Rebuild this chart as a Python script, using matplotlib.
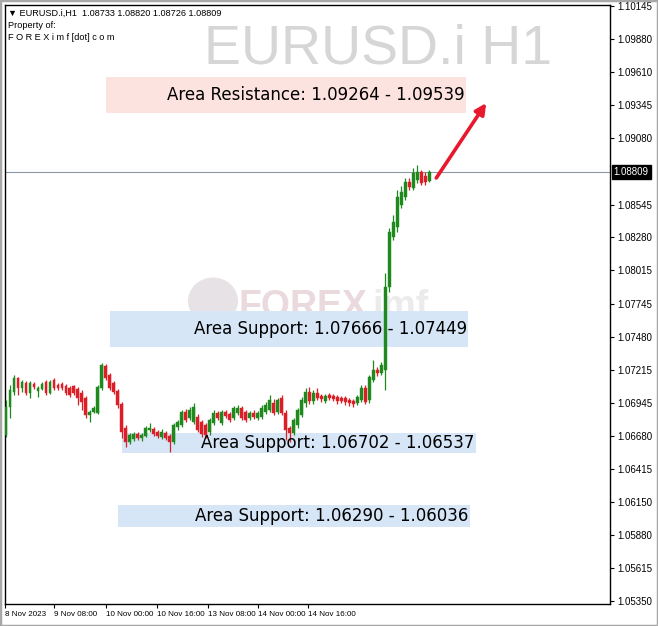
import matplotlib
matplotlib.use("Agg")
import matplotlib.pyplot as plt
from matplotlib.patches import Rectangle, Ellipse
from matplotlib.transforms import blended_transform_factory
import numpy as np

# ---- chart data (EURUSD.i H1) ----
opens = [
    1.06687, 1.06913, 1.07034, 1.07146, 1.07066, 1.07106, 1.07025, 1.07098, 1.07042, 1.07058,
    1.07114, 1.07025, 1.07130, 1.07090, 1.07098, 1.07082, 1.07066, 1.07082, 1.07058, 1.07025,
    1.06985, 1.06848, 1.06872, 1.06864, 1.07066, 1.07243, 1.07171, 1.07106, 1.07042, 1.06937,
    1.06743, 1.06630, 1.06655, 1.06695, 1.06663, 1.06679, 1.06727, 1.06735, 1.06711, 1.06671,
    1.06703, 1.06679, 1.06630, 1.06751, 1.06767, 1.06872, 1.06824, 1.06792, 1.06832, 1.06792,
    1.06767, 1.06711, 1.06784, 1.06864, 1.06784, 1.06872, 1.06856, 1.06824, 1.06864, 1.06905,
    1.06872, 1.06824, 1.06864, 1.06824, 1.06832, 1.06872, 1.06888, 1.06945, 1.06872, 1.06985,
    1.06864, 1.06743, 1.06703, 1.06767, 1.06848, 1.06945, 1.07034, 1.06961, 1.07025, 1.07001,
    1.06961, 1.07009, 1.07001, 1.06993, 1.06985, 1.06985, 1.06969, 1.06961, 1.06945, 1.06969,
    1.07066, 1.06969, 1.07130, 1.07211, 1.07187, 1.07211, 1.07880, 1.08283, 1.08363, 1.08541,
    1.08605, 1.08726, 1.08678, 1.08742, 1.08807, 1.08774, 1.08733,
]
highs = [
    1.06969, 1.07090, 1.07171, 1.07154, 1.07130, 1.07122, 1.07122, 1.07114, 1.07082, 1.07114,
    1.07130, 1.07130, 1.07146, 1.07106, 1.07114, 1.07098, 1.07082, 1.07090, 1.07074, 1.07050,
    1.07001, 1.06888, 1.06921, 1.07090, 1.07267, 1.07259, 1.07187, 1.07122, 1.07058, 1.06953,
    1.06767, 1.06703, 1.06711, 1.06711, 1.06703, 1.06759, 1.06784, 1.06751, 1.06727, 1.06735,
    1.06719, 1.06695, 1.06784, 1.06808, 1.06888, 1.06896, 1.06913, 1.06945, 1.06856, 1.06808,
    1.06784, 1.06824, 1.06888, 1.06880, 1.06888, 1.06888, 1.06872, 1.06921, 1.06929, 1.06921,
    1.06888, 1.06880, 1.06888, 1.06880, 1.06929, 1.06953, 1.07009, 1.06977, 1.06985, 1.07009,
    1.06888, 1.06759, 1.06824, 1.06905, 1.06993, 1.07066, 1.07074, 1.07050, 1.07066, 1.07017,
    1.07017, 1.07025, 1.07017, 1.07009, 1.07001, 1.07001, 1.06985, 1.06977, 1.07009, 1.07090,
    1.07090, 1.07171, 1.07291, 1.07235, 1.07275, 1.07993, 1.08355, 1.08460, 1.08662, 1.08694,
    1.08758, 1.08758, 1.08839, 1.08863, 1.08823, 1.08807, 1.08820,
]
lows = [
    1.06671, 1.06824, 1.07009, 1.07009, 1.07034, 1.07009, 1.06985, 1.07058, 1.06993, 1.07050,
    1.07009, 1.07017, 1.07050, 1.07050, 1.07050, 1.07009, 1.06993, 1.07009, 1.06929, 1.06888,
    1.06824, 1.06792, 1.06864, 1.06856, 1.07050, 1.07130, 1.07050, 1.07017, 1.06905, 1.06663,
    1.06590, 1.06614, 1.06638, 1.06647, 1.06638, 1.06671, 1.06711, 1.06679, 1.06663, 1.06655,
    1.06647, 1.06550, 1.06614, 1.06727, 1.06751, 1.06792, 1.06808, 1.06776, 1.06711, 1.06671,
    1.06663, 1.06687, 1.06767, 1.06808, 1.06767, 1.06824, 1.06792, 1.06808, 1.06848, 1.06808,
    1.06792, 1.06808, 1.06816, 1.06808, 1.06816, 1.06856, 1.06872, 1.06848, 1.06856, 1.06848,
    1.06647, 1.06630, 1.06687, 1.06743, 1.06832, 1.06913, 1.06937, 1.06937, 1.06969, 1.06953,
    1.06945, 1.06969, 1.06961, 1.06937, 1.06945, 1.06929, 1.06921, 1.06913, 1.06929, 1.06953,
    1.06937, 1.06945, 1.07114, 1.07162, 1.07171, 1.07050, 1.07839, 1.08258, 1.08323, 1.08517,
    1.08581, 1.08662, 1.08662, 1.08718, 1.08702, 1.08702, 1.08726,
]
closes = [
    1.06913, 1.07050, 1.07146, 1.07066, 1.07114, 1.07025, 1.07106, 1.07074, 1.07066, 1.07098,
    1.07025, 1.07114, 1.07066, 1.07066, 1.07066, 1.07025, 1.07009, 1.07025, 1.06985, 1.06953,
    1.06848, 1.06872, 1.06905, 1.07074, 1.07251, 1.07146, 1.07066, 1.07034, 1.06929, 1.06711,
    1.06630, 1.06687, 1.06695, 1.06663, 1.06687, 1.06743, 1.06743, 1.06695, 1.06679, 1.06711,
    1.06663, 1.06630, 1.06767, 1.06792, 1.06872, 1.06808, 1.06888, 1.06913, 1.06727, 1.06695,
    1.06687, 1.06808, 1.06864, 1.06824, 1.06872, 1.06840, 1.06808, 1.06905, 1.06905, 1.06824,
    1.06808, 1.06864, 1.06832, 1.06864, 1.06905, 1.06929, 1.06969, 1.06864, 1.06969, 1.06864,
    1.06727, 1.06703, 1.06808, 1.06888, 1.06969, 1.07034, 1.06961, 1.07025, 1.06985, 1.06977,
    1.07001, 1.06985, 1.06977, 1.06961, 1.06961, 1.06953, 1.06945, 1.06937, 1.06993, 1.07066,
    1.06953, 1.07154, 1.07211, 1.07187, 1.07251, 1.07880, 1.08323, 1.08404, 1.08605, 1.08645,
    1.08726, 1.08686, 1.08799, 1.08807, 1.08718, 1.08726, 1.08809,
]

price_ticks = [1.10145, 1.09880, 1.09610, 1.09345, 1.09080, 1.08545, 1.08280, 1.08015,
               1.07745, 1.07480, 1.07215, 1.06945, 1.06680, 1.06415, 1.06150, 1.05880,
               1.05615, 1.05350]
time_labels = ["8 Nov 2023", "9 Nov 08:00", "10 Nov 00:00", "10 Nov 16:00",
               "13 Nov 08:00", "14 Nov 00:00", "14 Nov 16:00"]
time_pos = [-0.25, 12, 25, 37.75, 50.5, 63, 75.75]   # bar index of each time label

last_price = 1.08809
header = "\u25bc EURUSD.i,H1  1.08733 1.08820 1.08726 1.08809"

# zones: bottom / top price, first / last bar, label, colour
zone_lo = [1.09283, 1.07397, 1.06543, 1.05946]
zone_hi = [1.09573, 1.07687, 1.06704, 1.06124]
zone_x0 = [25, 26, 29, 28]
zone_x1 = [115.25, 115.75, 117.75, 116.25]
zone_text = ["Area Resistance: 1.09264 - 1.09539",
             "Area Support: 1.07666 - 1.07449",
             "Area Support: 1.06702 - 1.06537",
             "Area Support: 1.06290 - 1.06036"]
zone_col = ["#fde3df", "#d6e6f7", "#d6e6f7", "#d6e6f7"]

arrow_from = (107.75, 1.08759)
arrow_to = (120.25, 1.09363)

BULL = "#1e8a1e"
BEAR = "#dc1f26"
W, H = 658, 626

plt.rcParams['font.family'] = ['DejaVu Sans']

fig = plt.figure(figsize=(W / 100, H / 100), dpi=100)
ax = fig.add_axes([5 / W, 1 - 604 / H, 605 / W, 599 / H])
ax.set_facecolor("white")

# zones
for lo, hi, x0, x1, txt, col in zip(zone_lo, zone_hi, zone_x0, zone_x1, zone_text, zone_col):
    ax.add_patch(Rectangle((x0, lo), x1 - x0, hi - lo, facecolor=col, edgecolor="none", zorder=1))
    ax.text(x1 - 0.4, (lo + hi) / 2, txt, ha="right", va="center", fontsize=12,
            color="black", zorder=6)

# logo watermark
ax.add_patch(Ellipse((213 / W, 1 - 301 / H), 50 / W, 47 / H, transform=fig.transFigure,
                     facecolor="#e6e2e6", edgecolor="none", zorder=0.5))
ax.text(238 / W, 1 - 317 / H, "FOREX", transform=fig.transFigure, fontsize=27,
        fontweight="bold", family="Liberation Sans", color="#ead9dd", zorder=0.6)
ax.text(372 / W, 1 - 317 / H, "imf", transform=fig.transFigure, fontsize=27,
        fontweight="bold", family="Liberation Sans", color="#ebebeb", zorder=0.6)

# current price line
ax.axhline(last_price, color="#8a98a6", lw=0.8, zorder=2)

# candles
xs = np.arange(len(closes))
o = np.array(opens)
c = np.array(closes)
cols = [BULL if cc >= oo else BEAR for oo, cc in zip(o, c)]
ax.vlines(xs, lows, highs, colors=cols, lw=0.9, zorder=3)
body = np.maximum(np.abs(c - o), 0.00003)
ax.bar(xs, body, bottom=np.minimum(o, c), width=0.7, color=cols, edgecolor=cols,
       lw=0.3, zorder=4)

# red arrow
ax.annotate("", xy=arrow_to, xytext=arrow_from,
            arrowprops=dict(arrowstyle="-|>", color="#e8192c", lw=2.6, mutation_scale=16,
                            shrinkA=0, shrinkB=0), zorder=7)

ax.set_xlim(-0.25, 151.25)
ax.set_ylim(1.05326, 1.10153)

# price axis on the right
ax.yaxis.tick_right()
ax.set_yticks(price_ticks)
ax.set_yticklabels([f"{p:.5f}" for p in price_ticks], family="Liberation Sans")
ax.tick_params(axis="y", length=3, width=0.8, pad=2, labelsize=7)

# time axis, labels start at their tick like MT4
ax.set_xticks(time_pos)
ax.set_xticklabels(time_labels, ha="left", family="Liberation Sans")
ax.tick_params(axis="x", length=3, width=0.8, pad=2, labelsize=5.8)

for sp in ax.spines.values():
    sp.set_color("black")
    sp.set_linewidth(1)

trans = blended_transform_factory(ax.transAxes, ax.transData)
ax.text(1.006, last_price, f"{last_price:.5f}", transform=trans, ha="left", va="center",
        fontsize=7, family="Liberation Sans", color="white", zorder=8, clip_on=False,
        bbox=dict(boxstyle="square,pad=0.2", facecolor="black", edgecolor="black"))

# header and big symbol watermark
fig.text(8 / W, 1 - 16 / H, header, fontsize=6.6, family=["Liberation Sans", "DejaVu Sans"])
fig.text(8 / W, 1 - 28 / H, "Property of:", fontsize=6.6, family="Liberation Sans")
fig.text(8 / W, 1 - 40 / H, "F O R E X i m f [dot] c o m", fontsize=6.6, family="Liberation Sans")
fig.text(552 / W, 1 - 63 / H, "EURUSD.i H1", ha="right", va="baseline", fontsize=40,
         family="Liberation Sans", color="#d6d6d6", zorder=0)

fig.add_artist(Rectangle((0, 0), 1, 1, transform=fig.transFigure, fill=False,
                         edgecolor="#a8a8a8", lw=2.5))

fig.savefig("out.png", dpi=100, facecolor="white")
